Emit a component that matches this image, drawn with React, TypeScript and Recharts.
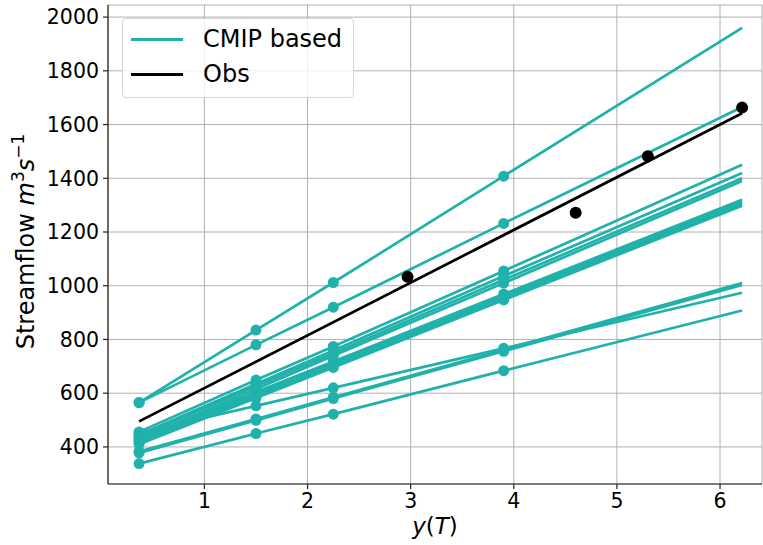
import React from 'react';
import { ComposedChart, Line, XAxis, YAxis, CartesianGrid, Legend } from 'recharts';

const TEAL = '#20b2aa';
const FONT = '"DejaVu Sans", sans-serif';

// Gumbel reduced variate positions of the return periods
const xVals = [0.3665, 1.5, 2.25, 3.902, 6.214];

// CMIP based fitted lines (values at each xVals position)
const cmip01 = [565, 835, 1012, 1408, 1960];
const cmip02 = [565, 780, 920, 1232, 1665];
const cmip03 = [456, 649, 774, 1055, 1450];
const cmip04 = [445, 634, 759, 1036, 1420];
const cmip05 = [440, 626, 749, 1022, 1400];
const cmip06 = [430, 616, 739, 1010, 1390];
const cmip07 = [432, 604, 718, 969, 1320];
const cmip08 = [425, 597, 711, 961, 1312];
const cmip09 = [418, 590, 703, 954, 1304];
const cmip10 = [410, 582, 696, 947, 1298];
const cmip11 = [383, 504, 585, 762, 1010];
const cmip12 = [378, 499, 580, 756, 1003];
const cmip13 = [452, 553, 620, 767, 974];
const cmip14 = [338, 450, 522, 684, 908];
const cmipSeries = [cmip01, cmip02, cmip03, cmip04, cmip05, cmip06, cmip07, cmip08, cmip09, cmip10, cmip11, cmip12, cmip13, cmip14];

// Observed fit line and observed points
const obsLineX = [0.3665, 6.214];
const obsLineY = [495, 1642];
const obsPointX = [2.97, 4.6, 5.3, 6.214];
const obsPointY = [1033, 1272, 1482, 1663];

const xTicks = [1, 2, 3, 4, 5, 6];
const yTicks = [400, 600, 800, 1000, 1200, 1400, 1600, 1800, 2000];
const xDomain = [0.065, 6.407];
const yDomain = [262, 2045];

const cmipData = cmipSeries.map((s) => xVals.map((x, i) => ({ x, y: s[i] })));
const obsLineData = obsLineX.map((x, i) => ({ x, y: obsLineY[i] }));
const obsPointData = obsPointX.map((x, i) => ({ x, y: obsPointY[i] }));

const cmipDot = (props: any) => {
  const { cx, cy, index } = props;
  if (index >= 4 || cx == null || cy == null) return <g key={`d${index}`} />;
  return <circle key={`d${index}`} cx={cx} cy={cy} r={5.5} fill={TEAL} stroke="none" />;
};

const obsDot = (props: any) => {
  const { cx, cy, index } = props;
  if (cx == null || cy == null) return <g key={`o${index}`} />;
  return <circle key={`o${index}`} cx={cx} cy={cy} r={6} fill="#000" stroke="none" />;
};

const LegendBox = () => (
  <div
    style={{
      position: 'relative',
      width: 232,
      height: 80,
      boxSizing: 'border-box',
      border: '1px solid #d6d6d6',
      borderRadius: 4,
      background: 'rgba(255,255,255,0.8)',
      fontFamily: FONT,
      fontSize: 24,
      color: '#000',
    }}
  >
    {[
      { name: 'CMIP based', color: TEAL, cy: 20 },
      { name: 'Obs', color: '#000', cy: 55 },
    ].map((it) => (
      <div key={it.name}>
        <div style={{ position: 'absolute', left: 8, top: it.cy - 1.5, width: 52, height: 3, background: it.color }} />
        <div style={{ position: 'absolute', left: 80, top: it.cy - 15, lineHeight: '30px', whiteSpace: 'nowrap' }}>{it.name}</div>
      </div>
    ))}
  </div>
);

const YLabel = (props: any) => {
  const vb = props.viewBox || { x: 0, y: 0, width: 108, height: 479 };
  const x = vb.x + 34;
  const y = vb.y + vb.height / 2 - 3;
  return (
    <text
      x={x}
      y={y}
      transform={`rotate(-90, ${x}, ${y})`}
      textAnchor="middle"
      fontFamily={FONT}
      fontSize={24}
      fill="#000"
    >
      <tspan>Streamflow </tspan>
      <tspan fontStyle="italic">m</tspan>
      <tspan fontSize={17} dy={-10}>3</tspan>
      <tspan fontStyle="italic" dy={10}>s</tspan>
      <tspan fontSize={17} dy={-10}>−1</tspan>
    </text>
  );
};

const XLabel = (props: any) => {
  const vb = props.viewBox || { x: 108, y: 484, width: 654, height: 61 };
  const x = vb.x + vb.width / 2;
  const y = vb.y + 50;
  return (
    <text x={x} y={y} textAnchor="middle" fontFamily={FONT} fontSize={23} fill="#000">
      <tspan fontStyle="italic">y</tspan>
      <tspan>(</tspan>
      <tspan fontStyle="italic">T</tspan>
      <tspan>)</tspan>
    </text>
  );
};

export default function App() {
  return (
    <div style={{ position: 'absolute', left: 0, top: 0, width: 763, height: 545, background: '#fff' }}>
      <ComposedChart width={763} height={545} margin={{ top: 5, right: 1, bottom: 0, left: 0 }}>
        <CartesianGrid stroke="#b0b0b0" strokeWidth={1} />
        <XAxis
          type="number"
          dataKey="x"
          domain={xDomain}
          ticks={xTicks}
          allowDataOverflow
          height={61}
          tickSize={5}
          tickMargin={4}
          tick={{ fontFamily: FONT, fontSize: 20.5, fill: '#000' }}
          stroke="#222"
          strokeWidth={1.2}
          label={<XLabel />}
        />
        <XAxis
          xAxisId="top"
          orientation="top"
          type="number"
          dataKey="x"
          domain={xDomain}
          allowDataOverflow
          height={0}
          tick={false}
          tickLine={false}
          stroke="#222"
          strokeWidth={1.2}
        />
        <YAxis
          type="number"
          dataKey="y"
          domain={yDomain}
          ticks={yTicks}
          allowDataOverflow
          width={108}
          tickSize={5}
          tickMargin={4}
          tick={{ fontFamily: FONT, fontSize: 20.5, fill: '#000' }}
          stroke="#222"
          strokeWidth={1.2}
          label={<YLabel />}
        />
        <Legend
          layout="vertical"
          align="center"
          verticalAlign="middle"
          content={<LegendBox />}
          wrapperStyle={{ left: 122, top: 18, width: 232, height: 80 }}
        />
        {cmipData.map((d, i) => (
          <Line
            key={`cmip${i}`}
            data={d}
            dataKey="y"
            type="linear"
            stroke={TEAL}
            strokeWidth={2.7}
            dot={cmipDot}
            activeDot={false}
            isAnimationActive={false}
            legendType="none"
          />
        ))}
        <Line
          data={obsLineData}
          dataKey="y"
          type="linear"
          stroke="#000"
          strokeWidth={2.7}
          dot={false}
          activeDot={false}
          isAnimationActive={false}
        />
        <Line
          data={obsPointData}
          dataKey="y"
          type="linear"
          stroke="none"
          strokeWidth={0}
          dot={obsDot}
          activeDot={false}
          isAnimationActive={false}
        />
      </ComposedChart>
    </div>
  );
}
